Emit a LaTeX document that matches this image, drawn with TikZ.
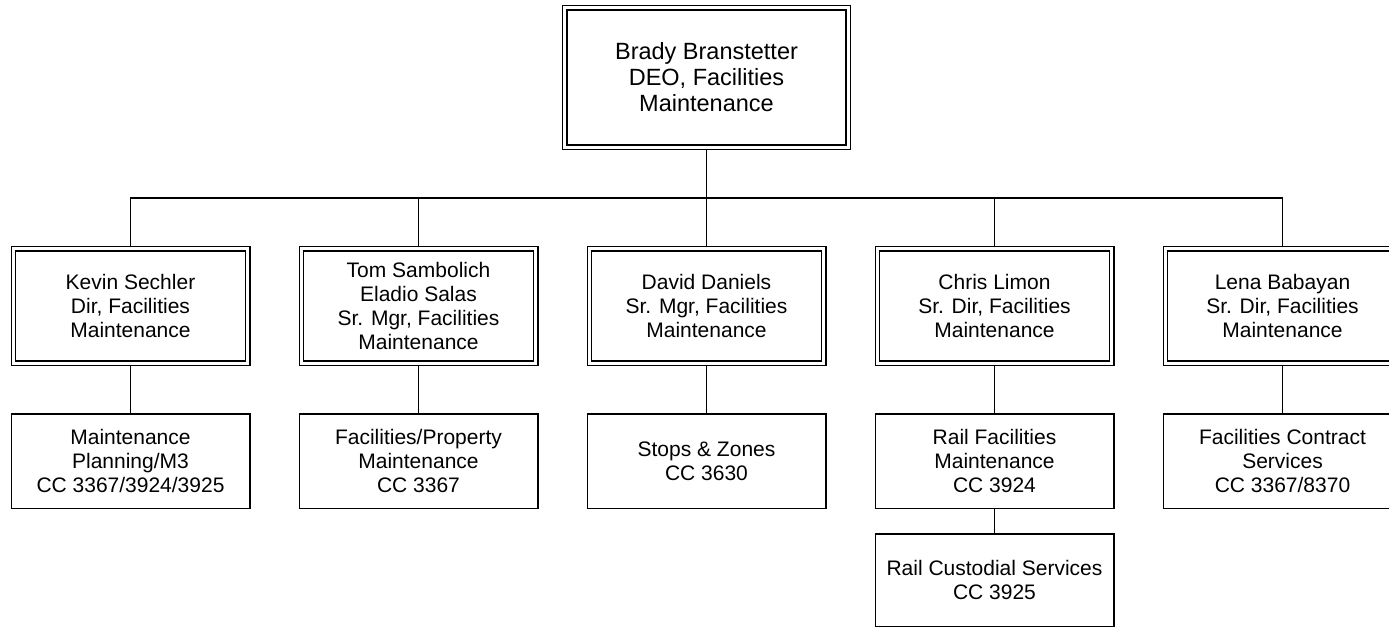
\documentclass[tikz,border=0pt]{standalone}
\usepackage{fontspec}
\setmainfont{Liberation Sans}
\usetikzlibrary{positioning, calc}

\begin{document}
\begin{tikzpicture}[
    x=1pt, y=1pt,
    node distance=48pt and 48pt,
    font=\fontsize{21}{23.8}\selectfont,
    mgr/.style={rectangle, draw, line width=1.4pt, double=white,
                double distance=3pt, outer sep=2.9pt, align=center,
                minimum width=234.2pt, minimum height=114.2pt, inner sep=0pt},
    unit/.style={rectangle, draw, line width=1.5pt, align=center,
                 minimum width=238.5pt, minimum height=94.5pt, inner sep=0pt},
    link/.style={line width=1.5pt},
]
\useasboundingbox (0,0) rectangle (1389,-630);
\clip (0,0) rectangle (1389,-630);

% ── Head ──
\node[mgr, minimum width=283.2pt, minimum height=139.2pt,
      font=\fontsize{23.5}{26}\selectfont] (head) at (706.5,-77.5)
  {Brady Branstetter\\DEO, Facilities\\Maintenance};

% ── Directors ──
\node[mgr, below=96pt of head] (daniels) {David Daniels\\Sr. Mgr, Facilities\\Maintenance};
\node[mgr, left=of daniels] (sambolich) {Tom Sambolich\\Eladio Salas\\Sr. Mgr, Facilities\\Maintenance};
\node[mgr, left=of sambolich] (sechler) {Kevin Sechler\\Dir, Facilities\\Maintenance};
\node[mgr, right=of daniels] (limon) {Chris Limon\\Sr. Dir, Facilities\\Maintenance};
\node[mgr, right=of limon] (babayan) {Lena Babayan\\Sr. Dir, Facilities\\Maintenance};

% ── Cost centres ──
\node[unit, below=47pt of sechler] (planning) {Maintenance\\Planning/M3\\CC 3367/3924/3925};
\node[unit, below=47pt of sambolich] (property) {Facilities/Property\\Maintenance\\CC 3367};
\node[unit, below=47pt of daniels] (stops) {Stops \& Zones\\CC 3630};
\node[unit, below=47pt of limon] (railfac) {Rail Facilities\\Maintenance\\CC 3924};
\node[unit, below=47pt of babayan] (contract) {Facilities Contract\\Services\\CC 3367/8370};
\node[unit, below=24pt of railfac, minimum height=92.5pt] (custodial) {Rail Custodial Services\\CC 3925};

% ── Lines ──
\coordinate (bus) at ($(head.south)!0.5!(daniels.north)$);
\draw[link] (head) -- (bus);
\draw[link] (sechler.north) |- (bus) -| (babayan.north);
\foreach \m in {sambolich, daniels, limon}
  \draw[link] (\m.north) -- (\m.north |- bus);
\foreach \m/\u in {sechler/planning, sambolich/property, daniels/stops,
                   limon/railfac, babayan/contract, railfac/custodial}
  \draw[link] (\m) -- (\u);

\end{tikzpicture}
\end{document}
